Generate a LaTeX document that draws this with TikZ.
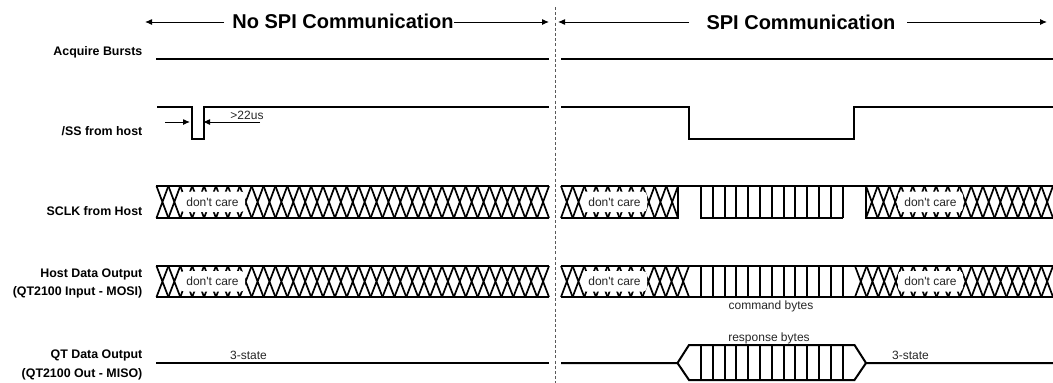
\documentclass[tikz,border=0pt]{standalone}
\usepackage{fontspec}
\setmainfont{Liberation Sans}
\newfontfamily\plainf{Liberation Sans}
\usetikzlibrary{arrows.meta}
\definecolor{txt}{gray}{0.15}
\tikzset{
  sig/.style={line width=2pt,line join=miter,line cap=butt},
  xline/.style={line width=1.7pt},
  thinarrow/.style={line width=1pt,-{Latex[length=7pt,width=6pt]}},
  lab/.style={font=\bfseries\fontsize{12.4}{14}\selectfont,anchor=east,inner sep=0pt,text=black},
  title/.style={font=\bfseries\fontsize{20}{22}\selectfont,inner sep=0pt,text=black},
  note/.style={font=\plainf\fontsize{12}{14}\selectfont,inner sep=0pt,text=txt},
  blank/.style={fill=white,rounded corners=4pt,draw=none},
}
% X cells: from x0 to x1, n cells, between ytop and ybot
\newcommand{\xrun}[5]{%
  \pgfmathsetmacro{\cw}{(#2-#1)/#3}
  \foreach \k in {1,...,#3}{
    \pgfmathsetmacro{\xa}{#1+(\k-1)*\cw}
    \pgfmathsetmacro{\xb}{#1+\k*\cw}
    \draw[xline] (\xa,#4) -- (\xb,#5) (\xb,#4) -- (\xa,#5);
  }}
\newcommand{\dcare}[4]{% x0 x1 ytop ybot
  \fill[blank] (#1,#3) rectangle (#2,#4);
  \node[note] at ({(#1+#2)/2},{(#3+#4)/2}) {don't care};}
\newcommand{\vticks}[2]{%
  \foreach \k in {0,...,12}{
    \pgfmathsetmacro{\xa}{round(701+\k*11.8)}
    \draw[sig] (\xa,#1) -- (\xa,#2);
  }}
\begin{document}
\begin{tikzpicture}[x=1pt,y=-1pt]
\useasboundingbox (0,0) rectangle (1053,383);
% divider
\draw[line width=1pt,black!65,dash pattern=on 3pt off 2.2pt] (555,7) -- (555,383);
% titles and arrows
\node[title] (t1) at (343,21) {No SPI Communication};
\node[title] (t2) at (801,22) {SPI Communication};
\coordinate (a1) at (145,22); \coordinate (a1s) at (224,22);
\coordinate (a2) at (549,22); \coordinate (a2s) at (454,22);
\coordinate (a3) at (558,22); \coordinate (a3s) at (689,22);
\coordinate (a4) at (1047,22); \coordinate (a4s) at (907,22);
\draw[thinarrow] (a1s) -- (a1);
\draw[thinarrow] (a2s) -- (a2);
\draw[thinarrow] (a3s) -- (a3);
\draw[thinarrow] (a4s) -- (a4);
% labels
\node[lab] (l1) at (142.5,52) {Acquire Bursts};
\node[lab] (l2) at (142.5,131) {/SS from host};
\node[lab] (l3) at (142.5,211) {SCLK from Host};
\node[lab] (l4) at (142.5,274) {Host Data Output};
\node[lab] (l5) at (142.5,292) {(QT2100 Input - MOSI)};
\node[lab] (l6) at (142.5,355) {QT Data Output};
\node[lab] (l7) at (142.5,374) {(QT2100 Out - MISO)};
% Acquire
\draw[sig] (156,59) -- (549,59);
\draw[sig] (561,59) -- (1053,59);
% /SS
\draw[sig] (157,107) -- (192,107) -- (192,139) -- (204,139) -- (204,107) -- (549,107);
\draw[sig] (561,107) -- (689,107) -- (689,139) -- (854,139) -- (854,107) -- (1053,107);
\coordinate (p1) at (165,122); \coordinate (p1e) at (190,122);
\coordinate (p2) at (260,122); \coordinate (p2e) at (203,122);
\draw[thinarrow] (p1) -- (p1e);
\draw[thinarrow] (p2) -- (p2e);
\node[note] (w) at (247,115.5) {>22us};
% SCLK
\xrun{156.5}{549}{33}{186}{218}
\dcare{180}{245}{191.5}{212}
\draw[sig] (156,186) -- (549,186) (156,218) -- (549,218);
\xrun{561}{678}{10}{186}{218}
\dcare{582}{647}{191.5}{212}
\xrun{866}{1053}{16}{186}{218}
\dcare{898}{963}{191.5}{212}
\vticks{186}{218}
\draw[sig] (561,186) -- (1053,186);
\draw[sig] (561,218) -- (678,218) -- (678,186);
\draw[sig] (700,218) -- (843,218);
\draw[sig] (866,186) -- (866,218) -- (1053,218);
% Host Data
\xrun{156.5}{549}{33}{266}{297}
\dcare{180}{245}{271}{291.5}
\draw[sig] (156,266) -- (549,266) (156,297) -- (549,297);
\xrun{561}{689}{11}{266}{297}
\dcare{582}{647}{271}{291.5}
\xrun{855}{1053}{17}{266}{297}
\dcare{898}{963}{271}{291.5}
\vticks{266}{297}
\draw[sig] (561,266) -- (1053,266) (561,297) -- (1053,297);
\node[note] (cb) at (771,306.5) {command bytes};
% MISO
\draw[sig] (156,363) -- (549,363);
\node[note] (s1) at (248.5,355) {3-state};
\vticks{345}{380}
\draw[sig] (561,363) -- (677.5,363) -- (689,345) -- (854.5,345) -- (866,363) -- (1053,363);
\draw[sig] (677.5,363) -- (689,380) -- (854.5,380) -- (866,363);
\node[note] (rb) at (769,338) {response bytes};
\node[note] (s2) at (910.5,355) {3-state};
\end{tikzpicture}
\end{document}
